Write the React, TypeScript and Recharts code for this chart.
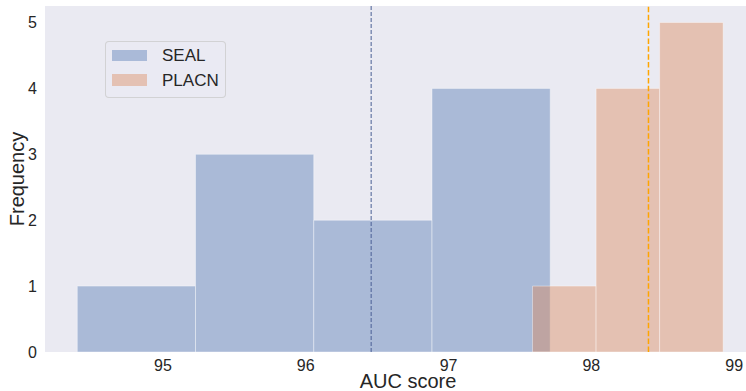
import React from 'react';
import {
  ComposedChart,
  XAxis,
  YAxis,
  CartesianGrid,
  ReferenceArea,
  ReferenceLine,
  Line,
  Legend,
} from 'recharts';

// ---- data ----
const sealEdges = [94.4, 95.228, 96.056, 96.884, 97.712];
const sealCounts = [1, 3, 2, 4];
const placnEdges = [97.588, 98.033, 98.478, 98.923];
const placnCounts = [1, 4, 5];
const sealMean = 96.458;
const placnMean = 98.4;
const xTicks = [95, 96, 97, 98, 99];
const yTicks = [0, 1, 2, 3, 4, 5];
const seriesNames = ['SEAL', 'PLACN'];

// ---- style ----
const FONT = '"Liberation Sans", Arial, sans-serif';
const TEXT = '#262626';
const BG = '#eaeaf2';
const SEAL_COLOR = '#4c72b0';
const PLACN_COLOR = '#dd8452';

const makeBins = (edges: number[], counts: number[]) =>
  counts.map((c, i) => ({ x0: edges[i], x1: edges[i + 1], count: c }));

const sealBins = makeBins(sealEdges, sealCounts);
const placnBins = makeBins(placnEdges, placnCounts);

const anchorData = [...sealBins, ...placnBins].map((b) => ({
  x: (b.x0 + b.x1) / 2,
  y: b.count,
}));

const LegendBox = () => (
  <div
    style={{
      width: 119,
      height: 55,
      border: '1px solid rgba(204,204,204,0.8)',
      borderRadius: 4,
      background: 'rgba(234,234,242,0.8)',
      position: 'relative',
      fontFamily: FONT,
      fontSize: 17,
      color: TEXT,
    }}
  >
    {seriesNames.map((name, i) => (
      <div
        key={name}
        style={{ position: 'absolute', left: 6, top: 7 + i * 24.7, height: 13, display: 'flex', alignItems: 'center' }}
      >
        <div
          style={{
            width: 35,
            height: 11.5,
            background: i === 0 ? SEAL_COLOR : PLACN_COLOR,
            opacity: 0.4,
          }}
        />
        <span style={{ marginLeft: 15, lineHeight: '13px', whiteSpace: 'nowrap' }}>{name}</span>
      </div>
    ))}
  </div>
);

export default function App() {
  return (
    <div
      style={{
        position: 'absolute',
        left: 0,
        top: 0,
        width: 746,
        height: 391,
        overflow: 'hidden',
        background: '#ffffff',
      }}
    >
      <ComposedChart
        width={755}
        height={391}
        data={anchorData}
        margin={{ top: 6, right: 0, bottom: 0, left: 0 }}
      >
        <rect x={45} y={6} width={710} height={346} fill={BG} />
        <CartesianGrid stroke="#ffffff" strokeWidth={1.2} fill={BG} />
        <XAxis
          type="number"
          dataKey="x"
          domain={[94.174, 99.146]}
          ticks={xTicks}
          allowDataOverflow
          axisLine={false}
          tickLine={false}
          height={39}
          tick={{ fill: TEXT, fontSize: 16, fontFamily: FONT }}
          label={() => (
            <text x={408} y={388} textAnchor="middle" fill={TEXT} fontSize={20} fontFamily={FONT}>
              AUC score
            </text>
          )}
        />
        <YAxis
          type="number"
          domain={[0, 5.25]}
          ticks={yTicks}
          allowDataOverflow
          axisLine={false}
          tickLine={false}
          width={45}
          tick={{ fill: TEXT, fontSize: 16, fontFamily: FONT }}
          label={() => (
            <text
              x={23.5}
              y={179}
              transform="rotate(-90, 23.5, 179)"
              textAnchor="middle"
              fill={TEXT}
              fontSize={20}
              fontFamily={FONT}
            >
              Frequency
            </text>
          )}
        />
        {sealBins.map((b, i) => (
          <ReferenceArea
            key={'s' + i}
            x1={b.x0}
            x2={b.x1}
            y1={0}
            y2={b.count}
            fill={SEAL_COLOR}
            fillOpacity={0.4}
            stroke="#ffffff"
            strokeOpacity={0.4}
            strokeWidth={1}
          />
        ))}
        {placnBins.map((b, i) => (
          <ReferenceArea
            key={'p' + i}
            x1={b.x0}
            x2={b.x1}
            y1={0}
            y2={b.count}
            fill={PLACN_COLOR}
            fillOpacity={0.4}
            stroke="#ffffff"
            strokeOpacity={0.4}
            strokeWidth={1}
          />
        ))}
        <ReferenceLine x={sealMean} stroke="#4a5f95" strokeWidth={1} strokeDasharray="4 2" />
        <ReferenceLine x={placnMean} stroke="#ffa500" strokeWidth={1.5} strokeDasharray="5.5 2.4" />
        <Line
          dataKey="y"
          stroke="none"
          dot={false}
          activeDot={false}
          legendType="none"
          isAnimationActive={false}
        />
        <Legend
          layout="vertical"
          align="center"
          verticalAlign="middle"
          content={() => <LegendBox />}
          wrapperStyle={{ position: 'absolute', left: 105, top: 41, width: 121, height: 57 }}
        />
      </ComposedChart>
    </div>
  );
}
